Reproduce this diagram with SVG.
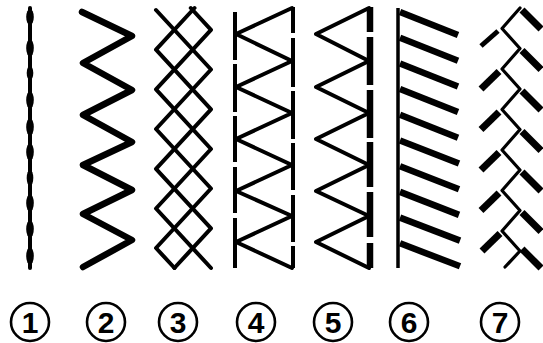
<svg xmlns="http://www.w3.org/2000/svg" width="543" height="343" viewBox="0 0 543 343">
<style>
.s{fill:none;stroke:#000;stroke-linecap:round;stroke-linejoin:round}
.w6{stroke-width:6.5}
.w4{stroke-width:4}
.w3{stroke-width:3.2}
.w7{stroke-width:7}
.bar{stroke:#000;stroke-width:4;stroke-linecap:butt}
.bead{fill:#000}
.lbl circle{fill:none;stroke:#000;stroke-width:2.6}
.lbl text{font-family:"Liberation Sans",Arial,sans-serif;font-weight:bold;font-size:30px;text-anchor:middle;fill:#000}
</style>
<rect width="543" height="343" fill="#fff"/>

<g id="stitch1">
  <line class="s" style="stroke-width:4" x1="30" y1="8" x2="30" y2="268"/>
  <g class="bead">
    <ellipse cx="30" cy="17" rx="3.8" ry="8"/>
    <ellipse cx="30" cy="48" rx="3.8" ry="9"/>
    <ellipse cx="30" cy="73" rx="3.3" ry="7"/>
    <ellipse cx="30" cy="100" rx="3.8" ry="9"/>
    <ellipse cx="30" cy="127" rx="3.8" ry="9"/>
    <ellipse cx="30" cy="152" rx="3.8" ry="9"/>
    <ellipse cx="30" cy="178" rx="3.3" ry="8"/>
    <ellipse cx="30" cy="203" rx="3.8" ry="9"/>
    <ellipse cx="30" cy="229" rx="3.8" ry="9"/>
    <ellipse cx="30" cy="256" rx="3.8" ry="9"/>
  </g>
</g>

<g id="stitch2">
  <polyline class="s w6" points="82,12 132,36 83,63 132,90 83,115 132,142 83,165 132,190 83,214 132,240 83,267"/>
</g>

<g id="stitch3">
  <polyline class="s w4" points="156,10 211,69.5 156,129 211,188.5 156,248 174.5,268"/>
  <polyline class="s w4" points="194.5,8 156,49.7 211,109.3 156,168.8 211,228.3 174.4,268"/>
  <polyline class="s w4" points="190.8,8 211,29.8 156,89.3 211,149 156,208.5 211,268"/>
</g>

<g id="stitch4">
  <g class="bar">
    <line x1="235" y1="12" x2="235" y2="60"/>
    <line x1="235" y1="64" x2="235" y2="112"/>
    <line x1="235" y1="116" x2="235" y2="162"/>
    <line x1="235" y1="167" x2="235" y2="213"/>
    <line x1="235" y1="218" x2="235" y2="268"/>
    <line x1="293" y1="7" x2="293" y2="33"/>
    <line x1="293" y1="38" x2="293" y2="87"/>
    <line x1="293" y1="91" x2="293" y2="139"/>
    <line x1="293" y1="143" x2="293" y2="190"/>
    <line x1="293" y1="195" x2="293" y2="242"/>
    <line x1="293" y1="246" x2="293" y2="268"/>
  </g>
  <polyline class="s w4" points="292,8 236,34 292,61 236,87 292,113 236,139 292,165 236,191 292,216 236,242 292,268"/>
</g>

<g id="stitch5">
  <g class="bar" style="stroke-width:6.5">
    <line x1="370" y1="7" x2="370" y2="32"/>
    <line x1="370" y1="37" x2="370" y2="85"/>
    <line x1="370" y1="90" x2="370" y2="138"/>
    <line x1="370" y1="142" x2="370" y2="187"/>
    <line x1="370" y1="192" x2="370" y2="237"/>
    <line x1="370" y1="243" x2="370" y2="268"/>
  </g>
  <polyline class="s w4" points="369,8 316,34 369,61 316,87 369,113 316,139 369,165 316,191 369,216 316,242 369,268"/>
</g>

<g id="stitch6">
  <line class="bar" style="stroke-width:3.5" x1="398" y1="8" x2="398" y2="268"/>
  <g class="s" style="stroke-width:6.5;stroke-linecap:butt">
    <line x1="400" y1="12" x2="458" y2="35"/>
    <line x1="400" y1="37.7" x2="458" y2="60.7"/>
    <line x1="400" y1="63.4" x2="458" y2="86.4"/>
    <line x1="400" y1="89.1" x2="458" y2="112.1"/>
    <line x1="400" y1="114.8" x2="458" y2="137.8"/>
    <line x1="400" y1="140.5" x2="459" y2="163.5"/>
    <line x1="400" y1="166.2" x2="459" y2="189.2"/>
    <line x1="400" y1="191.9" x2="459" y2="214.9"/>
    <line x1="400" y1="217.6" x2="460" y2="240.6"/>
    <line x1="400" y1="243.3" x2="460" y2="266.3"/>
  </g>
</g>

<g id="stitch7">
  <polyline class="s w3" points="520,8 502,28.5 520,48.5 502,69 520,89 502,109.5 520,129.5 502,150 520,170 502,190.5 520,210.5 502,231 520,251 505,267"/>
  <g class="s w7" style="stroke-linecap:butt">
    <line x1="522" y1="10" x2="541" y2="29"/>
    <line x1="522" y1="50.5" x2="541" y2="69.5"/>
    <line x1="522" y1="91" x2="541" y2="110"/>
    <line x1="522" y1="131.5" x2="541" y2="150.5"/>
    <line x1="522" y1="172" x2="541" y2="191"/>
    <line x1="522" y1="212.5" x2="541" y2="231.5"/>
    <line x1="522" y1="249" x2="541" y2="268"/>
    <line x1="498" y1="31" x2="481" y2="46" style="stroke-width:5"/>
    <line x1="499" y1="71.5" x2="481" y2="89"/>
    <line x1="499" y1="112" x2="481" y2="129.5"/>
    <line x1="499" y1="152.5" x2="481" y2="170"/>
    <line x1="499" y1="193" x2="481" y2="210.5"/>
    <line x1="500" y1="233.5" x2="482" y2="251"/>
  </g>
</g>

<g id="labels" class="lbl">
  <g id="label1"><circle cx="30" cy="322" r="19"/><text x="30" y="333">1</text></g>
  <g id="label2"><circle cx="106" cy="322" r="19"/><text x="106" y="333">2</text></g>
  <g id="label3"><circle cx="178" cy="322" r="19"/><text x="178" y="333">3</text></g>
  <g id="label4"><circle cx="256" cy="322" r="19"/><text x="256" y="333">4</text></g>
  <g id="label5"><circle cx="333" cy="322" r="19"/><text x="333" y="333">5</text></g>
  <g id="label6"><circle cx="409" cy="322" r="19"/><text x="409" y="333">6</text></g>
  <g id="label7"><circle cx="500" cy="322" r="19"/><text x="500" y="333">7</text></g>
</g>
</svg>
